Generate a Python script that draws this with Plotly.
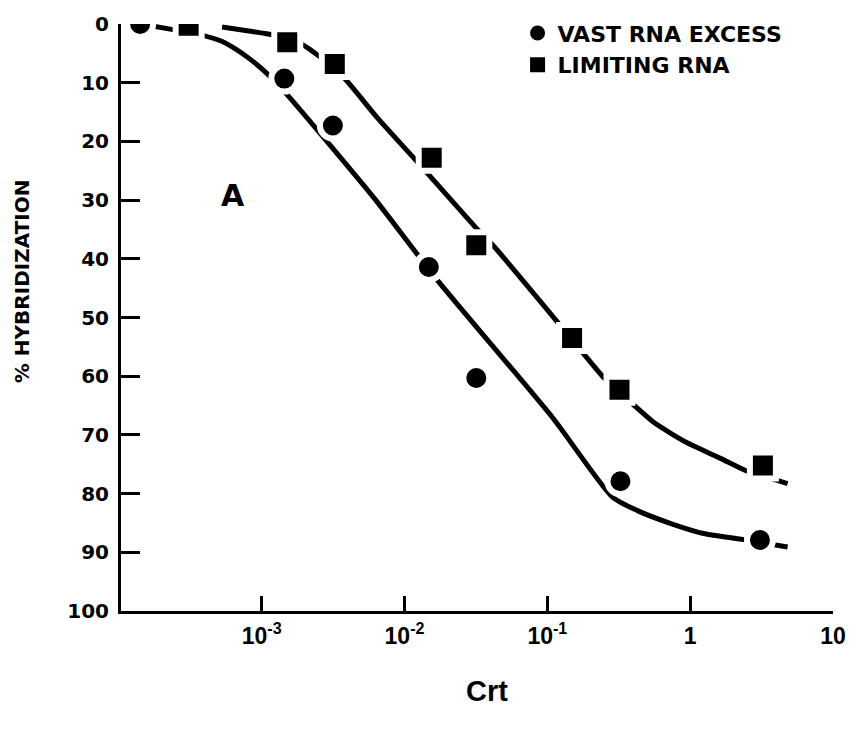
import plotly.graph_objects as go

# Measured hybridization points (Crt in mol·s/L, % hybridization)
excess_crt = [1.41e-4, 1.44e-3, 3.15e-3, 0.0148, 0.0318, 0.325, 3.08]
excess_pct = [0.0, 9.3, 17.3, 41.4, 60.3, 77.9, 87.9]

limiting_crt = [3.08e-4, 1.51e-3, 3.25e-3, 0.0155, 0.0318, 0.149, 0.32, 3.23]
limiting_pct = [0.3, 3.1, 6.8, 22.8, 37.7, 53.5, 62.3, 75.2]

# Hand-drawn fitted curves
excess_curve_crt = [1.41e-4, 2.46e-4, 3.79e-4, 5.2e-4, 6.5e-4, 8.2e-4, 1.12e-3,
                    1.49e-3, 6.15e-3, 0.0168, 0.110, 0.286, 0.427, 0.733,
                    1.24, 2.46, 4.81]
excess_curve_pct = [0.0, 1.0, 1.9, 2.9, 4.2, 5.9, 8.7,
                    11.9, 29.7, 43.5, 67.2, 80.6, 82.9, 85.1,
                    86.8, 87.9, 89.1]

limiting_curve_crt = [5.28e-4, 8.13e-4, 1.21e-3, 1.89e-3, 2.56e-3, 3.81e-3,
                      6.46e-3, 0.0122, 0.0333, 0.0416, 0.119, 0.177, 0.252,
                      0.394, 0.558, 0.946, 1.63, 2.46, 4.81]
limiting_curve_pct = [0.5, 1.2, 1.9, 3.4, 5.6, 9.3,
                      16.0, 23.4, 35.3, 37.7, 50.9, 56.0, 60.4,
                      64.7, 67.9, 71.3, 74.0, 76.1, 78.3]

x_tickvals = [1e-3, 1e-2, 1e-1, 1, 10]
x_ticktext = ["10<sup>-3</sup>", "10<sup>-2</sup>", "10<sup>-1</sup>", "1", "10"]
y_tickvals = [0, 10, 20, 30, 40, 50, 60, 70, 80, 90, 100]

series_names = ["VAST RNA EXCESS", "LIMITING RNA"]

INK = "black"
BOLD_WIDE = dict(family="DejaVu Sans", size=20, color=INK, weight="bold")

fig = go.Figure()

# curves first, so the markers (with a white halo) break them
for cx, cy in [(excess_curve_crt, excess_curve_pct),
               (limiting_curve_crt, limiting_curve_pct)]:
    fig.add_trace(go.Scatter(
        x=cx, y=cy, mode="lines",
        line=dict(color=INK, width=5, shape="spline", smoothing=0.6),
        showlegend=False, hoverinfo="skip"))

for px, py, sym in [(excess_crt, excess_pct, "circle"),
                    (limiting_crt, limiting_pct, "square")]:
    fig.add_trace(go.Scatter(
        x=px, y=py, mode="markers",
        marker=dict(symbol=sym, size=26, color=INK,
                    line=dict(color="white", width=6)),
        showlegend=False))

# legend entries
for name, sym, grp in zip(series_names, ["circle", "square"], ["g1", "g2"]):
    fig.add_trace(go.Scatter(
        x=[None], y=[None], mode="markers", name=name, legendgroup=grp,
        marker=dict(symbol=sym, size=15, color=INK)))

fig.update_layout(
    width=858, height=731,
    margin=dict(l=121, r=17, t=22, b=120),
    paper_bgcolor="white", plot_bgcolor="white",
    showlegend=True,
    legend=dict(x=0.557, y=1.02, xanchor="left", yanchor="top",
                font=dict(family="DejaVu Sans", size=22, color=INK, weight="bold"),
                bgcolor="rgba(0,0,0,0)",
                itemwidth=30, tracegroupgap=0),
    xaxis=dict(type="log", range=[-3.985, 1.0],
               tickvals=x_tickvals, ticktext=x_ticktext,
               ticks="inside", ticklen=15, tickwidth=3, tickcolor=INK,
               showline=True, linewidth=3, linecolor=INK,
               showgrid=False, zeroline=False,
               tickfont=dict(family="Liberation Sans", size=23, color=INK, weight="bold"),
               ticklabelstandoff=2),
    yaxis=dict(range=[100, 0], tickvals=y_tickvals,
               ticks="inside", ticklen=19, tickwidth=3, tickcolor=INK,
               showline=True, linewidth=3, linecolor=INK,
               showgrid=False, zeroline=False,
               tickfont=BOLD_WIDE, ticklabelstandoff=5),
    annotations=[
        dict(text="% HYBRIDIZATION", xref="paper", yref="paper",
             x=-0.139, y=0.562, textangle=-90, showarrow=False,
             font=BOLD_WIDE, xanchor="center", yanchor="middle"),
        dict(text="Crt", xref="paper", yref="paper",
             x=0.514, y=-0.136, showarrow=False,
             font=dict(family="Liberation Sans", size=29, color=INK, weight="bold"),
             xanchor="center", yanchor="middle"),
        dict(text="A", x=-3.2, y=29.2, xref="x", yref="y", showarrow=False,
             font=dict(family="DejaVu Sans", size=30, color=INK, weight="bold")),
    ],
)

fig.write_html("out.html")
